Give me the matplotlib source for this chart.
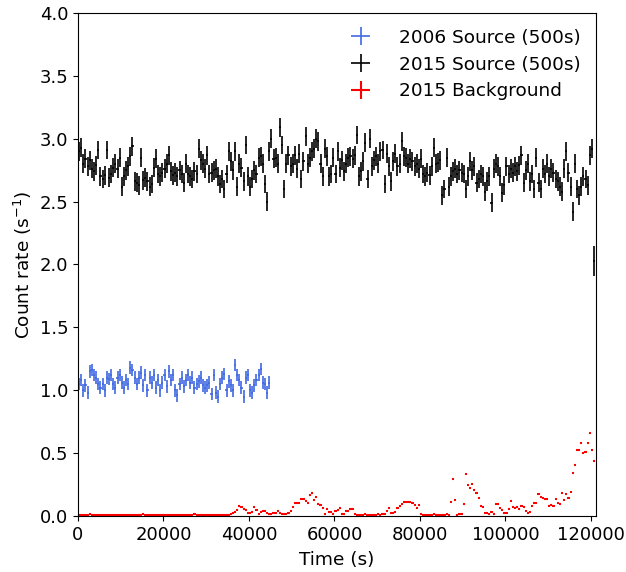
import numpy as np
import matplotlib
matplotlib.use("Agg")
import matplotlib.pyplot as plt

BIN = 500  # s, bin width of the light curves

# 2006 source count rate (s^-1), 500 s bins
src_2006 = [
    1.05, 1.08, 1.00, 1.04, 0.98, 1.15, 1.16, 1.12, 1.10, 1.05,
    1.02, 1.05, 1.00, 1.10, 1.09, 1.12, 1.05, 1.02, 1.10, 1.12,
    1.06, 1.02, 1.08, 1.05, 1.18, 1.16, 1.10, 1.05, 1.10, 1.14,
    1.04, 1.12, 1.00, 1.10, 1.06, 1.12, 1.02, 1.08, 1.00, 1.06,
    1.12, 1.03, 1.15, 1.08, 1.12, 1.00, 0.96, 1.05, 1.10, 1.03,
    1.08, 1.12, 1.06, 1.10, 1.02, 1.05, 1.07, 1.10, 1.04, 1.02,
    1.04, 1.06, 0.97, 1.12, 0.98, 0.95, 1.05, 1.10, 1.13, 1.00,
    1.07, 1.04, 1.00, 1.20, 1.12, 1.08, 1.02, 0.95, 1.10, 1.12,
    1.00, 0.98, 1.04, 1.08, 1.12, 1.17, 1.06, 1.05, 0.98, 1.06,
]

# 2015 source count rate (s^-1), 500 s bins
src_2015 = [
    2.90, 2.93, 2.80, 2.84, 2.78, 2.83, 2.76, 2.74, 2.79, 2.91,
    2.70, 2.68, 2.71, 2.91, 2.69, 2.72, 2.77, 2.80, 2.76, 2.85,
    2.62, 2.70, 2.75, 2.78, 2.86, 2.94, 2.66, 2.65, 2.63, 2.85,
    2.67, 2.69, 2.66, 2.62, 2.64, 2.77, 2.84, 2.72, 2.70, 2.73,
    2.76, 2.80, 2.87, 2.74, 2.71, 2.73, 2.70, 2.75, 2.72, 2.65,
    2.80, 2.72, 2.70, 2.68, 2.74, 2.72, 2.92, 2.83, 2.80, 2.76,
    2.87, 2.72, 2.73, 2.75, 2.76, 2.70, 2.64, 2.68, 2.60, 2.72,
    2.90, 2.82, 2.75, 2.90, 2.62, 2.80, 2.77, 2.66, 2.95, 2.70,
    2.62, 2.68, 2.75, 2.72, 2.85, 2.86, 2.80, 2.64, 2.50, 2.90,
    3.00, 2.84, 2.85, 2.80, 3.09, 2.95, 2.60, 2.80, 2.87, 2.78,
    2.80, 2.87, 2.76, 2.88, 2.68, 2.82, 3.02, 2.80, 2.85, 2.90,
    2.92, 3.00, 2.98, 2.80, 2.70, 2.92, 2.86, 2.70, 2.72, 2.85,
    2.72, 2.90, 2.77, 2.83, 2.74, 2.80, 2.85, 2.86, 2.84, 2.87,
    3.03, 2.70, 2.74, 2.82, 2.97, 2.68, 3.00, 2.78, 2.83, 2.86,
    2.80, 2.90, 2.91, 2.64, 2.88, 2.78, 2.66, 2.82, 2.88, 2.78,
    2.80, 2.98, 2.86, 2.85, 2.80, 2.84, 2.82, 2.78, 2.80, 2.76,
    2.84, 2.72, 2.70, 2.73, 2.71, 2.78, 2.93, 2.80, 2.81, 2.83,
    2.55, 2.60, 2.85, 2.62, 2.70, 2.74, 2.76, 2.72, 2.75, 2.73,
    2.72, 2.60, 2.70, 2.82, 2.75, 2.78, 2.65, 2.68, 2.72, 2.70,
    2.58, 2.66, 2.70, 2.49, 2.76, 2.80, 2.78, 2.70, 2.57, 2.63,
    2.78, 2.72, 2.76, 2.73, 2.78, 2.74, 2.79, 2.87, 2.65, 2.75,
    2.80, 2.66, 2.72, 2.60, 2.85, 2.65, 2.60, 2.76, 2.72, 2.80,
    2.70, 2.76, 2.73, 2.68, 2.66, 2.62, 2.58, 2.76, 2.90, 2.73,
    2.62, 2.42, 2.80, 2.60, 2.55, 2.62, 2.70, 2.68, 2.63, 2.87,
    2.92, 2.03,
]

# 2015 background count rate (s^-1), 500 s bins
bkg_2015 = [
    0.008, 0.006, 0.010, 0.005, 0.007, 0.012, 0.006, 0.004, 0.009, 0.007,
    0.005, 0.010, 0.006, 0.008, 0.004, 0.007, 0.011, 0.006, 0.005, 0.008,
    0.006, 0.009, 0.004, 0.007, 0.006, 0.010, 0.005, 0.008, 0.007, 0.005,
    0.012, 0.006, 0.004, 0.008, 0.007, 0.009, 0.005, 0.006, 0.010, 0.007,
    0.004, 0.008, 0.006, 0.011, 0.005, 0.007, 0.006, 0.009, 0.004, 0.008,
    0.010, 0.006, 0.005, 0.007, 0.012, 0.006, 0.008, 0.005, 0.009, 0.007,
    0.006, 0.010, 0.004, 0.008, 0.006, 0.007, 0.011, 0.005, 0.008, 0.006,
    0.009, 0.014, 0.020, 0.030, 0.048, 0.080, 0.069, 0.055,
    0.045, 0.027, 0.021, 0.035, 0.069, 0.048, 0.016, 0.035, 0.042, 0.042,
    0.021, 0.016, 0.016, 0.021, 0.021, 0.042, 0.021, 0.016, 0.013, 0.016,
    0.027, 0.042, 0.074, 0.106, 0.101, 0.106, 0.138, 0.138, 0.122, 0.101,
    0.167, 0.180, 0.127, 0.148, 0.095, 0.085, 0.061, 0.016, 0.053, 0.035,
    0.030, 0.016, 0.042, 0.048, 0.061, 0.016, 0.013, 0.042, 0.042, 0.053,
    0.053, 0.016,
    0.010, 0.008, 0.011, 0.009, 0.012, 0.008, 0.010, 0.009, 0.011, 0.008,
    0.013, 0.010, 0.014, 0.018,
    0.042, 0.061, 0.027, 0.021, 0.035, 0.061, 0.080, 0.095, 0.111, 0.114,
    0.111, 0.109, 0.106, 0.085, 0.061, 0.087, 0.016,
    0.010, 0.009, 0.011, 0.008, 0.010, 0.012, 0.009, 0.008, 0.011, 0.010,
    0.009, 0.012, 0.010,
    0.114, 0.297, 0.127, 0.011, 0.013, 0.016, 0.093, 0.334, 0.244, 0.225,
    0.254, 0.207, 0.186, 0.140, 0.082, 0.074, 0.027, 0.021, 0.016, 0.035,
    0.013, 0.095, 0.095, 0.061, 0.048, 0.021, 0.027, 0.056, 0.117, 0.074,
    0.066, 0.074, 0.058, 0.080, 0.074, 0.042, 0.021, 0.032, 0.082, 0.106,
    0.106, 0.175, 0.148, 0.143, 0.138, 0.135, 0.082, 0.090, 0.082, 0.135,
    0.101, 0.098, 0.180, 0.127, 0.175, 0.143, 0.191, 0.345, 0.408, 0.522,
    0.525, 0.578, 0.501, 0.512, 0.583, 0.657, 0.528, 0.440,
]

# typical 1-sigma errors
err_2006 = 0.05
err_2015 = 0.075
err_bkg = 0.004


def bin_centres(values):
    return BIN * (np.arange(len(values)) + 0.5)


fig = plt.figure(figsize=(6.26, 5.72), dpi=100)
ax = fig.add_axes([0.1246, 0.0979, 0.8275, 0.8794])

yerr_2015 = np.full(len(src_2015), err_2015)
yerr_2015[-1] = 0.12  # last bin is only partially exposed

ax.errorbar(bin_centres(src_2006), src_2006, xerr=BIN / 2, yerr=err_2006,
            fmt="none", ecolor="royalblue", elinewidth=1.2,
            label="2006 Source (500s)")
ax.errorbar(bin_centres(src_2015), src_2015, xerr=BIN / 2, yerr=yerr_2015,
            fmt="none", ecolor="black", elinewidth=1.2,
            label="2015 Source (500s)")
ax.errorbar(bin_centres(bkg_2015), bkg_2015, xerr=BIN / 2, yerr=err_bkg,
            fmt="none", ecolor="red", elinewidth=1.5,
            label="2015 Background")

ax.set_xlim(0, 121200)
ax.set_ylim(0, 4.0)
ax.set_xticks([0, 20000, 40000, 60000, 80000, 100000, 120000])
ax.set_yticks(np.arange(0, 4.01, 0.5))
ax.tick_params(labelsize=13)
ax.set_xlabel("Time (s)", fontsize=13.3, labelpad=5)
ax.set_ylabel("Count rate (s$^{-1}$)", fontsize=13.3)

ax.legend(loc="upper right", frameon=False, fontsize=13.3,
          handlelength=1.2, handletextpad=1.45, labelspacing=0.48,
          borderaxespad=0.45)

fig.savefig("out.png", dpi=100)
